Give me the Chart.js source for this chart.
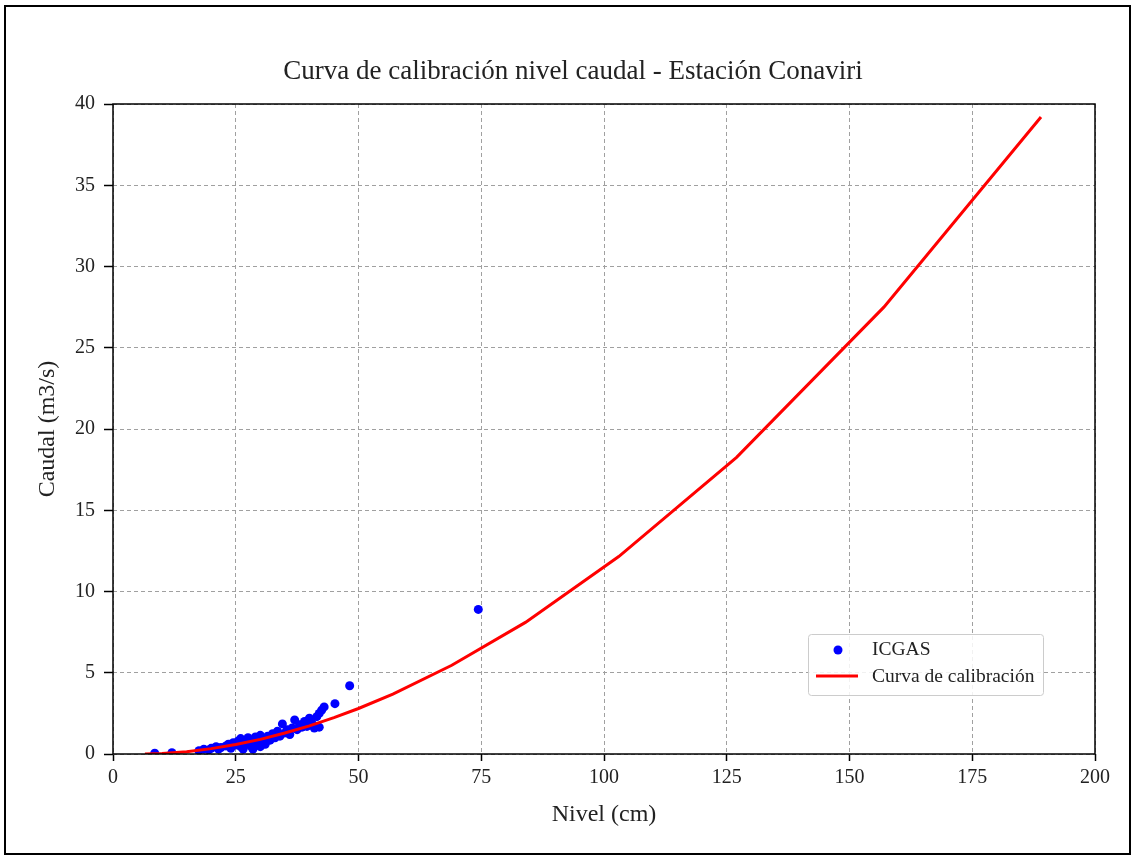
<!DOCTYPE html>
<html>
<head>
<meta charset="utf-8">
<script src="https://cdn.jsdelivr.net/npm/chart.js@4.4.1/dist/chart.umd.min.js"></script>
<style>
    body { margin: 0; background: #fff; }
    canvas { display: block; }
</style>
</head>
<body>
<canvas id="chart" width="1134" height="857"></canvas>
<script>
// ICGAS aforos (nivel cm, caudal m3/s)
const nivelObs = [8.5, 12, 17.5, 18.5, 19.5, 20, 21, 21.5, 22, 23, 23.5, 24, 24.5, 25, 25.5, 26, 26, 26.5, 27, 27.5,
    28, 28, 28.5, 29, 29.5, 30, 30, 30.5, 31, 31.5, 32, 32.5, 33, 33.5, 34, 34.5, 35, 35.5, 36, 36.5,
    37, 37.5, 38, 38.5, 39, 39.5, 40, 40.5, 41, 41.5, 42, 42, 42.5, 43, 45.2, 48.2, 74.4];
const caudalObs = [0.05, 0.08, 0.2, 0.3, 0.25, 0.35, 0.45, 0.3, 0.4, 0.5, 0.6, 0.35, 0.7, 0.55, 0.8, 0.45, 0.95, 0.3, 0.7, 1.0,
    0.5, 0.85, 0.3, 1.05, 0.7, 1.15, 0.45, 0.9, 0.6, 1.1, 0.85, 1.25, 1.0, 1.4, 1.1, 1.85, 1.3, 1.5, 1.2, 1.6,
    2.1, 1.5, 1.8, 1.65, 2.0, 1.7, 2.2, 1.9, 1.6, 2.3, 1.65, 2.5, 2.7, 2.9, 3.1, 4.2, 8.9];

// curva de calibración
const nivelCurva = [6.5, 10, 15, 20, 25, 30, 35, 40, 45, 50, 57, 69, 84, 103, 127, 157, 189];
const caudalCurva = [0, 0.03, 0.14, 0.33, 0.58, 0.9, 1.29, 1.73, 2.24, 2.8, 3.69, 5.46, 8.1, 12.15, 18.26, 27.5, 39.2];

const xTicks = [0, 25, 50, 75, 100, 125, 150, 175, 200];
const yTicks = [0, 5, 10, 15, 20, 25, 30, 35, 40];

const titulo = 'Curva de calibración nivel caudal - Estación Conaviri';
const serif = "'Liberation Serif', 'Times New Roman', serif";

const toPoints = (xs, ys) => xs.map((x, i) => ({x: x, y: ys[i]}));

// frame, axes box, title and the legend inside the plot
const decorPlugin = {
    id: 'decor',
    afterDraw(chart) {
        const ctx = chart.ctx;
        const area = chart.chartArea;
        ctx.save();
        ctx.strokeStyle = '#000';
        ctx.lineWidth = 1.5;
        ctx.strokeRect(area.left, area.top, area.right - area.left, area.bottom - area.top);

        // outer figure frame
        ctx.lineWidth = 2;
        ctx.strokeRect(5, 6, 1125, 848);

        // title (centred on the figure, not the axes)
        ctx.fillStyle = '#222';
        ctx.font = '27px ' + serif;
        ctx.textAlign = 'center';
        ctx.textBaseline = 'middle';
        ctx.fillText(titulo, 573, 72);

        // legend
        const lx = area.right - 287, ly = area.bottom - 120, lw = 235, lh = 61;
        ctx.fillStyle = 'rgba(255,255,255,0.85)';
        ctx.strokeStyle = '#cccccc';
        ctx.lineWidth = 1;
        ctx.beginPath();
        ctx.roundRect(lx + 0.5, ly + 0.5, lw, lh, 3);
        ctx.fill();
        ctx.stroke();

        ctx.fillStyle = '#0000ff';
        ctx.beginPath();
        ctx.arc(lx + 30, ly + 16, 4.5, 0, Math.PI * 2);
        ctx.fill();

        ctx.strokeStyle = '#ff0000';
        ctx.lineWidth = 3;
        ctx.beginPath();
        ctx.moveTo(lx + 8, ly + 42);
        ctx.lineTo(lx + 50, ly + 42);
        ctx.stroke();

        ctx.fillStyle = '#222';
        ctx.font = '19.5px ' + serif;
        ctx.textAlign = 'left';
        ctx.fillText('ICGAS', lx + 64, ly + 16);
        ctx.fillText('Curva de calibración', lx + 64, ly + 43);
        ctx.restore();
    }
};

const ctx = document.getElementById('chart').getContext('2d');
const myChart = new Chart(ctx, {
    type: 'scatter',
    data: {
        datasets: [{
            label: 'Curva de calibración',
            data: toPoints(nivelCurva, caudalCurva),
            showLine: true,
            borderColor: '#ff0000',
            borderWidth: 3,
            pointRadius: 0,
            tension: 0,
            order: 0
        }, {
            label: 'ICGAS',
            data: toPoints(nivelObs, caudalObs),
            backgroundColor: '#0000ff',
            borderWidth: 0,
            pointRadius: 4.5,
            order: 1
        }]
    },
    options: {
        responsive: false,
        animation: false,
        layout: {padding: {left: 0, right: 39, top: 104, bottom: 0}},
        plugins: {
            legend: {display: false},
            tooltip: {enabled: false},
            title: {display: false}
        },
        scales: {
            x: {
                type: 'linear',
                min: 0,
                max: 200,
                afterFit: (scale) => { scale.height = 103; },
                afterBuildTicks: (scale) => { scale.ticks = xTicks.map(v => ({value: v})); },
                grid: {color: '#a0a0a0', lineWidth: 1, tickColor: '#000', tickLength: 7, tickWidth: 1.5},
                border: {display: false, dash: [4, 3]},
                ticks: {color: '#222', font: {family: serif, size: 20}, padding: 5},
                title: {
                    display: true,
                    text: 'Nivel (cm)',
                    color: '#222',
                    font: {family: serif, size: 24},
                    padding: {top: 0, bottom: 28}
                }
            },
            y: {
                type: 'linear',
                min: 0,
                max: 40,
                afterFit: (scale) => { scale.width = 113; },
                afterBuildTicks: (scale) => { scale.ticks = yTicks.map(v => ({value: v})); },
                grid: {color: '#a0a0a0', lineWidth: 1, tickColor: '#000', tickLength: 9, tickWidth: 1.5},
                border: {display: false, dash: [4, 3]},
                ticks: {color: '#222', font: {family: serif, size: 20}, padding: 9},
                title: {
                    display: true,
                    text: 'Caudal (m3/s)',
                    color: '#222',
                    font: {family: serif, size: 24},
                    padding: {top: 33, bottom: 0}
                }
            }
        }
    },
    plugins: [decorPlugin]
});
</script>
</body>
</html>
